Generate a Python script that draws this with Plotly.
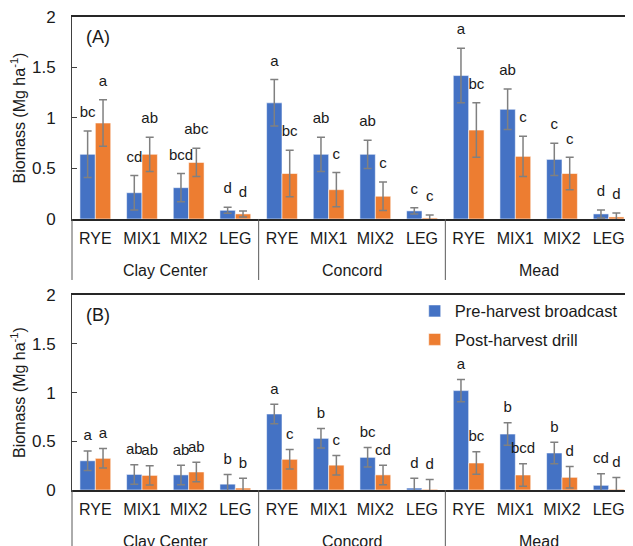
import plotly.graph_objects as go
from plotly.subplots import make_subplots

sites = ["Clay Center", "Concord", "Mead"]
treatments = ["RYE", "MIX1", "MIX2", "LEG"]
series_names = ["Pre-harvest broadcast", "Post-harvest drill"]
colors = ["#4472C4", "#ED7D31"]

# Panel A values (site-major order: Clay Center RYE..LEG, Concord ..., Mead ...)
a_pre = [0.64, 0.26, 0.31, 0.086, 1.15, 0.64, 0.64, 0.08, 1.42, 1.086, 0.59, 0.05]
a_pre_err = [0.23, 0.17, 0.14, 0.03, 0.23, 0.17, 0.14, 0.03, 0.27, 0.20, 0.16, 0.04]
a_post = [0.95, 0.64, 0.56, 0.05, 0.45, 0.29, 0.225, 0.01, 0.88, 0.62, 0.45, 0.02]
a_post_err = [0.23, 0.17, 0.14, 0.03, 0.23, 0.17, 0.14, 0.03, 0.27, 0.20, 0.16, 0.04]
a_pre_letters = ["bc", "cd", "bcd", "d", "a", "ab", "ab", "c", "a", "ab", "c", "d"]
a_post_letters = ["a", "ab", "abc", "d", "bc", "c", "c", "c", "bc", "c", "c", "d"]

# Panel B values
b_pre = [0.30, 0.16, 0.155, 0.06, 0.78, 0.53, 0.335, 0.02, 1.02, 0.574, 0.38, 0.048]
b_pre_err = [0.10, 0.10, 0.10, 0.10, 0.10, 0.10, 0.10, 0.10, 0.115, 0.115, 0.11, 0.12]
b_post = [0.325, 0.15, 0.185, 0.02, 0.315, 0.255, 0.155, 0.007, 0.277, 0.154, 0.13, 0.007]
b_post_err = [0.10, 0.10, 0.10, 0.10, 0.10, 0.10, 0.10, 0.10, 0.115, 0.115, 0.11, 0.12]
b_pre_letters = ["a", "ab", "ab", "b", "a", "b", "bc", "d", "a", "b", "b", "cd"]
b_post_letters = ["a", "ab", "ab", "b", "c", "c", "cd", "d", "bc", "bcd", "d", "d"]

panel_labels = ["(A)", "(B)"]
y_ticks = [0, 0.5, 1, 1.5, 2]
y_tick_text = ["0", "0.5", "1", "1.5", "2"]

n_trt = len(treatments)
n_cat = len(sites) * n_trt
xpos = list(range(n_cat))
trt_col = [t for _ in sites for t in treatments]

FONT = "Liberation Sans, Arial, sans-serif"
TXT = "#1a1a1a"

fig = make_subplots(rows=2, cols=1, vertical_spacing=0.16)

panels = [
    (a_pre, a_pre_err, a_post, a_post_err, a_pre_letters, a_post_letters, 0.10),
    (b_pre, b_pre_err, b_post, b_post_err, b_pre_letters, b_post_letters, 0.07),
]

for r, (pre, pre_e, post, post_e, pre_l, post_l, pad) in enumerate(panels, start=1):
    for k, (vals, errs) in enumerate([(pre, pre_e), (post, post_e)]):
        fig.add_trace(go.Bar(
            x=xpos, y=vals, name=series_names[k],
            marker=dict(color=colors[k], line=dict(color="rgba(255,255,255,0.55)", width=1)),
            error_y=dict(type="data", array=errs, visible=True, color="#808080",
                         thickness=1.5, width=4),
            showlegend=(r == 2), legendgroup=series_names[k], offsetgroup=str(k),
            hoverinfo="y",
        ), row=r, col=1)
    for k, (vals, errs, letters) in enumerate([(pre, pre_e, pre_l), (post, post_e, post_l)]):
        fig.add_trace(go.Scatter(
            x=xpos, y=[v + e + pad for v, e in zip(vals, errs)],
            mode="text", text=letters, textposition="top center",
            textfont=dict(family=FONT, size=15, color=TXT),
            showlegend=False, hoverinfo="skip", offsetgroup=str(k),
        ), row=r, col=1)

for r in (1, 2):
    fig.update_yaxes(
        range=[0, 2], tickvals=y_ticks, ticktext=y_tick_text,
        showline=True, linecolor="#404040", linewidth=1, mirror=True,
        ticks="inside", ticklen=5, tickcolor="#404040",
        ticklabelstandoff=12, ticklabeloverflow="allow",
        showgrid=False, zeroline=False,
        tickfont=dict(family=FONT, size=17, color=TXT),
        title=dict(text="Biomass (Mg ha<sup>-1</sup>)", font=dict(family=FONT, size=16, color=TXT),
                   standoff=8),
        row=r, col=1)
    fig.update_xaxes(
        range=[-0.5, n_cat - 0.5], tickvals=xpos, ticktext=trt_col, tickangle=0,
        showline=True, linecolor="#262626", linewidth=1.5, mirror=True,
        ticks="outside", ticklen=4, tickcolor="rgba(0,0,0,0)",
        tickfont=dict(family=FONT, size=16, color=TXT), showgrid=False, zeroline=False,
        row=r, col=1)

dom_a = [0.573, 1.0]
dom_b = [0.0, 0.412]

fig.update_layout(
    width=625, height=538,
    margin=dict(l=64, r=1, t=9, b=56, autoexpand=False),
    plot_bgcolor="white", paper_bgcolor="white",
    barmode="group", bargap=0.34, bargroupgap=0,
    scattermode="group", scattergap=0.34,
    font=dict(family=FONT, size=16, color=TXT),
    legend=dict(x=0.612, y=0.415, xanchor="left", yanchor="top",
                font=dict(family=FONT, size=16.5, color=TXT),
                bgcolor="rgba(0,0,0,0)", tracegroupgap=4, itemwidth=30),
    showlegend=True,
    yaxis=dict(domain=dom_a), yaxis2=dict(domain=dom_b),
)

for r, (lab, dom) in enumerate(zip(panel_labels, [dom_a, dom_b]), start=1):
    xd = "x domain" if r == 1 else "x2 domain"
    yd = "y domain" if r == 1 else "y2 domain"
    fig.add_annotation(text=lab, x=0.022, y=0.96, xref=xd, yref=yd,
                       xanchor="left", yanchor="top", showarrow=False,
                       font=dict(family=FONT, size=18, color=TXT))
    # site group labels below the treatment labels
    for s_i, site in enumerate(sites):
        fig.add_annotation(text=site, x=(s_i * n_trt + n_trt / 2) / n_cat, y=0,
                           xref=xd, yref=yd, xanchor="center", yanchor="top",
                           yshift=-41, showarrow=False,
                           font=dict(family=FONT, size=16, color=TXT))
    # group dividers extending below the axis
    for b_i in range(len(sites) + 1):
        fig.add_shape(type="line", xref=xd, yref="paper",
                      x0=b_i * n_trt / n_cat, x1=b_i * n_trt / n_cat,
                      ysizemode="pixel", yanchor=dom[0], y0=0, y1=-61,
                      line=dict(color="#595959", width=1))

fig.write_html("out.html")
